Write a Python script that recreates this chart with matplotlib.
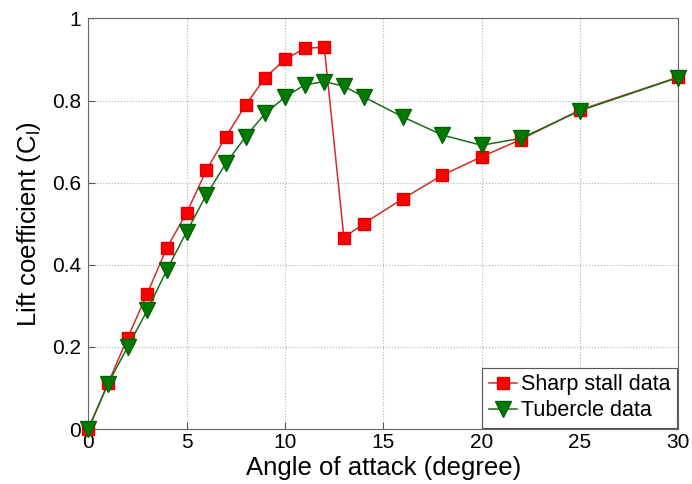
import numpy as np
import matplotlib.pyplot as plt
from matplotlib.ticker import FuncFormatter

plt.rcParams['font.family'] = ['Liberation Sans', 'DejaVu Sans']

# Angle of attack (degree)
angle = [0, 1, 2, 3, 4, 5, 6, 7, 8, 9, 10, 11, 12, 13, 14, 16, 18, 20, 22, 25, 30]

# Lift coefficient values
sharpStall = [0.0, 0.111, 0.222, 0.330, 0.442, 0.526, 0.630, 0.712, 0.789, 0.856,
              0.900, 0.927, 0.930, 0.466, 0.500, 0.561, 0.618, 0.663, 0.705, 0.777, 0.857]
tubercle = [0.0, 0.110, 0.200, 0.289, 0.388, 0.480, 0.570, 0.647, 0.712, 0.769,
            0.808, 0.838, 0.846, 0.835, 0.809, 0.760, 0.716, 0.691, 0.708, 0.775, 0.856]

fig = plt.figure(figsize=(6.92, 4.84), dpi=100)
ax = fig.add_axes([0.1276, 0.1136, 0.8524, 0.8484])

ax.plot(angle, sharpStall, color='#d42a2a', lw=1.1, marker='s', ms=9,
        mfc='#ff0000', mec='#e00000', label='Sharp stall data', zorder=3,
        clip_on=False)
ax.plot(angle, tubercle, color='#1a6e1a', lw=1.1, marker='v', ms=11,
        mfc='#007a00', mec='#006400', label='Tubercle data', zorder=4,
        clip_on=False)

ax.set_xlim(0, 30)
ax.set_ylim(0, 1)
ax.set_xticks([0, 5, 10, 15, 20, 25, 30])
ax.set_yticks([0, 0.2, 0.4, 0.6, 0.8, 1.0])
ax.yaxis.set_major_formatter(FuncFormatter(lambda v, p: f"{v:g}"))

ax.grid(True, linestyle=':', color='#b0b0b0', linewidth=0.8)
ax.tick_params(direction='in', labelsize=15, length=5, color='#555555', pad=3)
ax.tick_params(axis='y', pad=5)
for s in ax.spines.values():
    s.set_color('#666666')
    s.set_linewidth(0.8)

ax.set_xlabel('Angle of attack (degree)', fontsize=18.5, labelpad=3)
ax.set_ylabel('Lift coefficient (C$_\\mathregular{l}$)', fontsize=18.5, labelpad=7)

leg = ax.legend(loc='lower right', fontsize=15.5, fancybox=False, framealpha=1,
                edgecolor='#555555', borderpad=0.3, handlelength=1.3,
                handletextpad=0.2, labelspacing=0.25, borderaxespad=0.05)
leg.get_frame().set_linewidth(0.8)

fig.savefig('out.png', dpi=100)
